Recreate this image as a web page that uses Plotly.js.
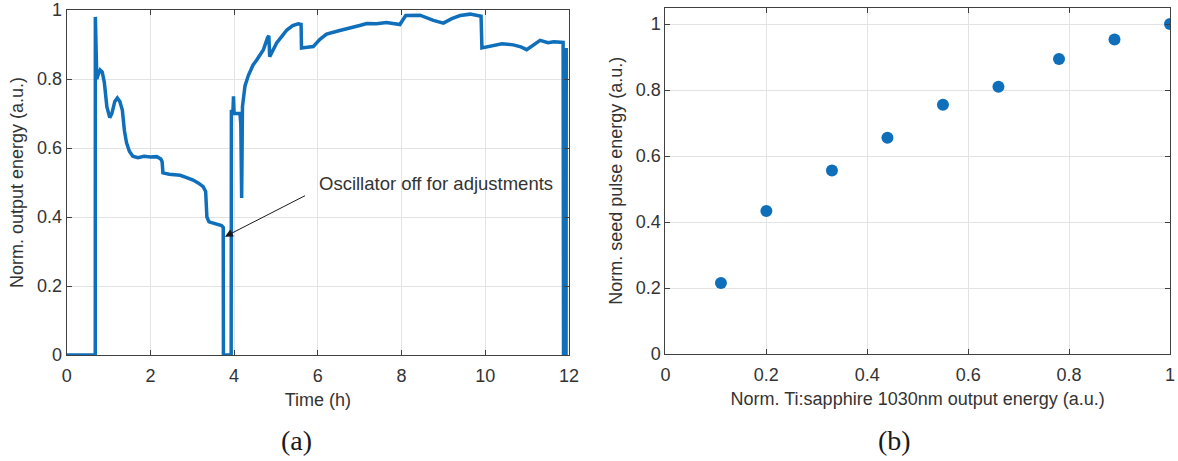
<!DOCTYPE html>
<html>
<head>
<meta charset="utf-8">
<script src="https://cdn.plot.ly/plotly-3.0.1.min.js"></script>
<style>
  html, body { margin: 0; padding: 0; background: #ffffff; }
  #chart { width: 1178px; height: 461px; }
</style>
</head>
<body>
<div id="chart"></div>
<script>
// (a) Normalised amplifier output energy over a 12 h run
const timeHours = [
  0, 0.683, 0.685, 0.70, 0.72, 0.76, 0.80, 0.85, 0.90, 0.96,
  1.03, 1.08, 1.15, 1.21, 1.27, 1.33, 1.38, 1.43, 1.50, 1.58,
  1.70, 1.85, 2.00, 2.15, 2.25, 2.28, 2.30, 2.45, 2.60, 2.71,
  2.85, 3.02, 3.15, 3.26, 3.32, 3.35, 3.40, 3.55, 3.70, 3.74,
  3.745, 3.93, 3.935, 3.97, 3.985, 4.00, 4.08, 4.14, 4.16, 4.18,
  4.20, 4.26, 4.34, 4.45, 4.54, 4.70, 4.80, 4.83, 4.85, 4.95,
  5.02, 5.15, 5.26, 5.40, 5.53, 5.60, 5.61, 5.75, 5.89, 6.05,
  6.21, 6.50, 6.77, 7.00, 7.17, 7.40, 7.64, 7.96, 8.10, 8.44,
  8.76, 9.00, 9.20, 9.40, 9.64, 9.90, 9.92, 10.19, 10.40, 10.67,
  10.85, 10.99, 11.15, 11.31, 11.50, 11.64, 11.86, 11.87, 11.93, 11.935
];
const outputEnergy = [
  0, 0, 0.98, 0.90, 0.80, 0.815, 0.826, 0.82, 0.79, 0.72,
  0.688, 0.70, 0.735, 0.745, 0.735, 0.71, 0.65, 0.615, 0.59, 0.576,
  0.572, 0.576, 0.574, 0.575, 0.568, 0.56, 0.528, 0.524, 0.522, 0.521,
  0.515, 0.507, 0.498, 0.488, 0.474, 0.40, 0.386, 0.38, 0.375, 0.37,
  0, 0, 0.71, 0.70, 0.75, 0.70, 0.70, 0.70, 0.67, 0.455,
  0.72, 0.78, 0.81, 0.84, 0.855, 0.885, 0.92, 0.925, 0.865, 0.89,
  0.905, 0.925, 0.942, 0.955, 0.96, 0.958, 0.89, 0.892, 0.894, 0.915,
  0.93, 0.94, 0.947, 0.955, 0.961, 0.96, 0.964, 0.958, 0.984, 0.985,
  0.97, 0.962, 0.975, 0.984, 0.988, 0.982, 0.89, 0.898, 0.902, 0.899,
  0.893, 0.885, 0.898, 0.912, 0.905, 0.908, 0.906, 0, 0, 0.89
];

// (b) Seed pulse energy versus Ti:sapphire output energy
const tiSapphireEnergy = [0.11, 0.20, 0.33, 0.44, 0.55, 0.66, 0.78, 0.89, 1.00];
const seedPulseEnergy  = [0.215, 0.433, 0.556, 0.655, 0.755, 0.81, 0.894, 0.953, 1.00];

const timeTicks = [0, 2, 4, 6, 8, 10, 12];
const energyTicks = [0, 0.2, 0.4, 0.6, 0.8, 1];

const blue = '#0f6fba';
const axisColor = '#404040';
const gridColor = '#e3e3e3';
const font = {family: '"Liberation Sans", Arial, sans-serif', size: 18, color: '#333333'};
const serif = {family: '"Liberation Serif", "Times New Roman", serif', size: 28, color: '#1a1a1a'};

function axis(extra) {
  return Object.assign({
    showline: true, linecolor: axisColor, linewidth: 1, mirror: 'ticks',
    ticks: 'inside', ticklen: 5, tickcolor: axisColor, tickwidth: 1,
    showgrid: true, gridcolor: gridColor, gridwidth: 1, zeroline: false,
    tickfont: font, fixedrange: true
  }, extra);
}

const traces = [
  {
    x: timeHours, y: outputEnergy, type: 'scatter', mode: 'lines',
    line: {color: blue, width: 3.5}, xaxis: 'x', yaxis: 'y',
    hoverinfo: 'skip'
  },
  {
    x: tiSapphireEnergy, y: seedPulseEnergy, type: 'scatter', mode: 'markers',
    marker: {color: blue, size: 12}, xaxis: 'x2', yaxis: 'y2',
    hoverinfo: 'skip'
  }
];

const layout = {
  width: 1178, height: 461,
  margin: {l: 0, r: 0, t: 0, b: 0},
  paper_bgcolor: '#ffffff', plot_bgcolor: '#ffffff',
  showlegend: false,
  font: font,
  xaxis: axis({
    domain: [0.0566, 0.483], range: [0, 12], tickvals: timeTicks,
    ticklabelstandoff: 4,
    title: {text: 'Time (h)', font: font, standoff: 8}
  }),
  yaxis: axis({
    domain: [0.2299, 0.9783], range: [0, 1], tickvals: energyTicks,
    title: {text: 'Norm. output energy (a.u.)', font: font, standoff: 8}
  }),
  xaxis2: axis({
    anchor: 'y2',
    domain: [0.5649, 0.9932], range: [0, 1], tickvals: energyTicks,
    ticklabelstandoff: 4,
    title: {text: 'Norm. Ti:sapphire 1030nm output energy (a.u.)', font: font, standoff: 8}
  }),
  yaxis2: axis({
    anchor: 'x2',
    domain: [0.2321, 0.9837], range: [0, 1.05], tickvals: energyTicks,
    title: {text: 'Norm. seed pulse energy (a.u.)', font: font, standoff: 8}
  }),
  annotations: [
    {
      xref: 'x', yref: 'y', x: 3.78, y: 0.343,
      axref: 'x', ayref: 'y', ax: 5.73, ay: 0.464,
      text: '', showarrow: true, arrowhead: 2, arrowsize: 1.6,
      arrowwidth: 1, arrowcolor: '#1a1a1a'
    },
    {
      xref: 'x', yref: 'y', x: 5.99, y: 0.497,
      xanchor: 'left', yanchor: 'middle', showarrow: false,
      text: 'Oscillator off for adjustments',
      font: {family: font.family, size: 18.5, color: font.color}
    },
    {
      xref: 'paper', yref: 'paper', x: 0.252, y: 0.045,
      xanchor: 'center', yanchor: 'middle', showarrow: false,
      text: '(a)', font: serif
    },
    {
      xref: 'paper', yref: 'paper', x: 0.759, y: 0.045,
      xanchor: 'center', yanchor: 'middle', showarrow: false,
      text: '(b)', font: serif
    }
  ]
};

Plotly.newPlot('chart', traces, layout, {staticPlot: true, displayModeBar: false});
</script>
</body>
</html>
